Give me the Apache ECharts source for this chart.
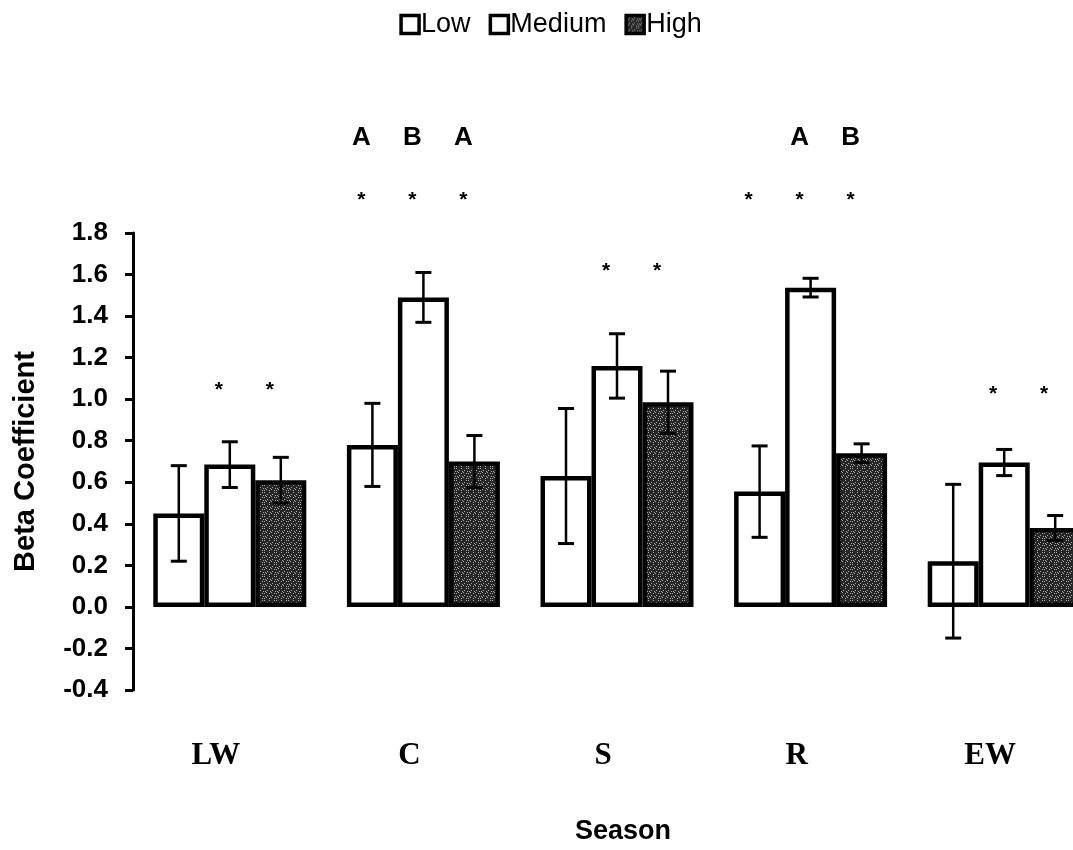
<!DOCTYPE html>
<html>
<head>
<meta charset="utf-8">
<script src="https://cdn.jsdelivr.net/npm/echarts@6/dist/echarts.min.js"></script>
<style>html,body{margin:0;padding:0;background:#fff;overflow:hidden}#c{width:1101px;height:850px}</style>
</head>
<body>
<div id="c"></div>
<script>
// ---- data ----
const categories = ['LW', 'C', 'S', 'R', 'EW'];
const levels = ['Low', 'Medium', 'High'];
const lowVals  = [0.45, 0.78, 0.63, 0.555, 0.22];
const lowErr   = [0.23, 0.20, 0.325, 0.22, 0.37];
const medVals  = [0.685, 1.49, 1.16, 1.537, 0.695];
const medErr   = [0.11, 0.12, 0.155, 0.045, 0.063];
const highVals = [0.61, 0.70, 0.985, 0.74, 0.38];
const highErr  = [0.11, 0.125, 0.15, 0.045, 0.06];
// significance asterisks (y position in data units, null = none)
const starLow  = [null, 1.97, null, 1.97, null];
const starMed  = [1.06, 1.97, 1.63, 1.97, 1.04];
const starHigh = [1.06, 1.97, 1.63, 1.97, 1.04];
// group letters
const letterLow  = ['', 'A', '', '', ''];
const letterMed  = ['', 'B', '', 'A', ''];
const letterHigh = ['', 'A', '', 'B', ''];
const letterLevel = 2.26;
const yTickLabels = ['-0.4','-0.2','0.0','0.2','0.4','0.6','0.8','1.0','1.2','1.4','1.6','1.8'];

// ---- styling ----
const BAR_W = 51;
const ANN_SHIFT = -11;
const SANS = 'Liberation Sans, Arial, sans-serif';

function makePattern() {
  const c = document.createElement('canvas');
  c.width = 12; c.height = 12;
  const ctx = c.getContext('2d');
  ctx.fillStyle = '#262626';
  ctx.fillRect(0, 0, 12, 12);
  ctx.fillStyle = '#a8a8a8';
  for (let y = 0; y < 12; y++) {
    for (let x = 0; x < 12; x++) {
      if (((x * 7 + y * 13 + x * y * 3) % 5) === 0) ctx.fillRect(x, y, 1, 1);
    }
  }
  return c;
}
const pattern = { image: makePattern(), repeat: 'repeat' };

const chart = echarts.init(document.getElementById('c'), null, { renderer: 'canvas' });

function barSeries(name, vals, fill) {
  return {
    name: name,
    type: 'bar',
    data: vals,
    barWidth: BAR_W,
    barGap: '0%',
    itemStyle: { color: fill, borderColor: '#000', borderWidth: 4.5 },
    z: 2
  };
}

function errSeries(idx, vals, errs) {
  const off = (idx - 1) * BAR_W;
  return {
    type: 'custom',
    data: vals.map((v, i) => [i, v, errs[i]]),
    z: 5,
    silent: true,
    clip: false,
    renderItem: function (params, api) {
      const i = api.value(0), v = api.value(1), e = api.value(2);
      const top = api.coord([i, v + e]);
      const bot = api.coord([i, v - e]);
      const x = top[0] + off;
      const cap = 8;
      const st = { stroke: '#000', lineWidth: 2.5 };
      return {
        type: 'group',
        children: [
          { type: 'line', shape: { x1: x, y1: top[1], x2: x, y2: bot[1] }, style: st },
          { type: 'line', shape: { x1: x - cap, y1: top[1], x2: x + cap, y2: top[1] }, style: { stroke: '#000', lineWidth: 3 } },
          { type: 'line', shape: { x1: x - cap, y1: bot[1], x2: x + cap, y2: bot[1] }, style: { stroke: '#000', lineWidth: 3 } }
        ]
      };
    }
  };
}

function starSeries(idx, stars) {
  const off = (idx - 1) * BAR_W + ANN_SHIFT;
  return {
    type: 'custom',
    data: stars.map((y, i) => [i, y == null ? NaN : y]),
    z: 6,
    silent: true,
    clip: false,
    renderItem: function (params, api) {
      const y = api.value(1);
      if (isNaN(y)) return null;
      const p = api.coord([api.value(0), y]);
      return {
        type: 'text',
        style: { x: p[0] + off, y: p[1] + 3, text: '*', fill: '#000',
          font: 'bold 21px ' + SANS, align: 'center', verticalAlign: 'middle' }
      };
    }
  };
}

function letterSeries(idx, letters) {
  const off = (idx - 1) * BAR_W + ANN_SHIFT;
  return {
    type: 'custom',
    data: letters.map((t, i) => [i, letterLevel]),
    z: 6,
    silent: true,
    clip: false,
    renderItem: function (params, api) {
      const t = letters[params.dataIndex];
      if (!t) return null;
      const p = api.coord([api.value(0), api.value(1)]);
      return {
        type: 'text',
        style: { x: p[0] + off, y: p[1], text: t, fill: '#000',
          font: 'bold 26px ' + SANS, align: 'center', verticalAlign: 'middle' }
      };
    }
  };
}

chart.setOption({
  animation: false,
  backgroundColor: '#fff',
  legend: {
    data: levels,
    top: 6,
    left: 'center',
    itemWidth: 18,
    itemHeight: 18,
    itemGap: 18,
    icon: 'rect',
    textStyle: { fontFamily: SANS, fontSize: 27, color: '#000', padding: [0, 0, 0, -3] },
    itemStyle: { borderColor: '#000', borderWidth: 3.5 }
  },
  grid: { left: 133, top: 233, bottom: 156, right: 0, containLabel: false },
  xAxis: {
    type: 'category',
    data: categories,
    axisLine: { show: false, onZero: false },
    axisTick: { show: false },
    splitLine: { show: false },
    axisLabel: {
      margin: 50,
      fontFamily: 'Liberation Serif, Times New Roman, serif',
      fontWeight: 'bold',
      fontSize: 31,
      color: '#000',
      padding: [0, 28, 0, 0]
    },
    name: 'Season',
    nameLocation: 'middle',
    nameGap: 128,
    nameTextStyle: { fontFamily: SANS, fontWeight: 'bold', fontSize: 27, color: '#000', padding: [0, 0, 0, 12] }
  },
  yAxis: {
    type: 'value',
    min: -0.4,
    max: 1.8,
    interval: 0.2,
    axisLine: { show: true, lineStyle: { color: '#000', width: 3 } },
    axisTick: { show: true, length: 8, lineStyle: { color: '#000', width: 3 } },
    splitLine: { show: false },
    axisLabel: {
      margin: 25,
      fontFamily: SANS,
      fontWeight: 'bold',
      fontSize: 26,
      color: '#000',
      formatter: function (v) {
        const idx = Math.round((v + 0.4) / 0.2);
        return yTickLabels[idx] !== undefined ? yTickLabels[idx] : v.toFixed(1);
      }
    },
    name: 'Beta Coefficient',
    nameLocation: 'middle',
    nameGap: 93,
    nameTextStyle: { fontFamily: SANS, fontWeight: 'bold', fontSize: 29, color: '#000' }
  },
  series: [
    barSeries('Low', lowVals, '#fff'),
    barSeries('Medium', medVals, '#fff'),
    barSeries('High', highVals, pattern),
    errSeries(0, lowVals, lowErr),
    errSeries(1, medVals, medErr),
    errSeries(2, highVals, highErr),
    starSeries(0, starLow),
    starSeries(1, starMed),
    starSeries(2, starHigh),
    letterSeries(0, letterLow),
    letterSeries(1, letterMed),
    letterSeries(2, letterHigh)
  ]
});
</script>
</body>
</html>
